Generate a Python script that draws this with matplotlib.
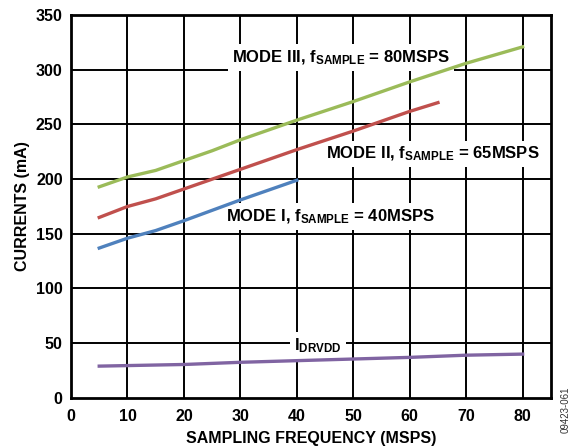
import matplotlib
matplotlib.use('Agg')
import matplotlib.pyplot as plt
import numpy as np

plt.rcParams['font.family'] = ['Liberation Sans', 'DejaVu Sans']
plt.rcParams['font.weight'] = 'bold'
plt.rcParams['mathtext.fontset'] = 'custom'
plt.rcParams['mathtext.rm'] = 'Liberation Sans:bold'
plt.rcParams['mathtext.bf'] = 'Liberation Sans:bold'
plt.rcParams['mathtext.it'] = 'Liberation Sans:bold'

# data
x_mode3 = [5, 10, 15, 20, 25, 30, 40, 50, 60, 70, 80]
y_mode3 = [193, 202, 208, 217, 226, 236, 254, 271, 289, 306, 321]
x_mode2 = [5, 10, 15, 20, 30, 40, 50, 60, 65]
y_mode2 = [165, 175, 182, 191, 209, 227, 244, 262, 270]
x_mode1 = [5, 10, 15, 20, 30, 40]
y_mode1 = [137, 146, 153, 162, 181, 199]
x_drvdd = [5, 20, 30, 40, 50, 60, 70, 80]
y_drvdd = [29, 30.5, 32.5, 34, 35.5, 37, 39, 40]

xticks = np.arange(0, 81, 10)
yticks = np.arange(0, 351, 50)

fig = plt.figure(figsize=(5.74, 4.46), dpi=100)
ax = fig.add_axes([0.1237, 0.108, 0.836, 0.858])

for v in xticks[1:]:
    ax.axvline(v, color='black', lw=1.4, zorder=1)
for v in yticks[1:]:
    ax.axhline(v, color='black', lw=1.4, zorder=1)

ax.plot(x_mode3, y_mode3, color='#9BBB59', lw=2.4, zorder=3)
ax.plot(x_mode2, y_mode2, color='#C0504D', lw=2.4, zorder=3)
ax.plot(x_mode1, y_mode1, color='#4F81BD', lw=2.4, zorder=3)
ax.plot(x_drvdd, y_drvdd, color='#8064A2', lw=2.4, zorder=3)

box = dict(fc='white', ec='none', pad=3)
fs = 12
ax.text(47.8, 311, r'MODE III, $\mathbf{f_{SAMPLE}}$ = 80MSPS', ha='center', va='center',
        fontsize=fs, fontweight='bold', bbox=box, zorder=2)
ax.text(64, 223, r'MODE II, $\mathbf{f_{SAMPLE}}$ = 65MSPS', ha='center', va='center',
        fontsize=fs, fontweight='bold', bbox=box, zorder=2)
ax.text(46, 166, r'MODE I, $\mathbf{f_{SAMPLE}}$ = 40MSPS', ha='center', va='center',
        fontsize=fs, fontweight='bold', bbox=box, zorder=2)
ax.text(43.7, 48, r'$\mathbf{I_{DRVDD}}$', ha='center', va='center',
        fontsize=fs, fontweight='bold', bbox=box, zorder=2)

ax.set_xlim(0, 85)
ax.set_ylim(0, 350)
ax.set_xticks(xticks)
ax.set_yticks(yticks)
ax.tick_params(axis='x', length=0, labelsize=11.5, pad=8)
ax.tick_params(axis='y', length=0, labelsize=11.5, pad=6)
for s in ax.spines.values():
    s.set_linewidth(2)
ax.set_xlabel('SAMPLING FREQUENCY (MSPS)', fontsize=11.5, fontweight='bold', labelpad=5)
ax.set_ylabel('CURRENTS (mA)', fontsize=11.5, fontweight='bold', labelpad=4)

fig.text(0.985, 0.03, '09423-061', rotation=90, fontsize=7, fontweight='normal',
         color='#333333', ha='center', va='bottom')

fig.savefig('out.png', dpi=100)
